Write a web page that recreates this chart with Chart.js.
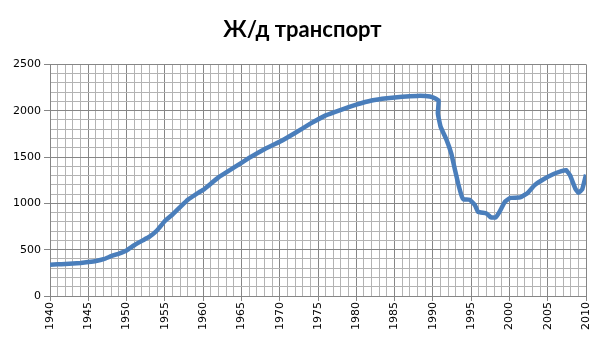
<!DOCTYPE html>
<html>
<head>
<meta charset="utf-8">
<script src="https://cdn.jsdelivr.net/npm/chart.js@4/dist/chart.umd.min.js"></script>
<style>
html,body{margin:0;padding:0;background:#fff;}
#wrap{width:605px;height:340px;}
</style>
</head>
<body>
<div id="wrap"><canvas id="c" width="605" height="340"></canvas></div>
<script>
const chartTitle = "Ж/д транспорт";
const years = [1940,1941,1942,1943,1944,1945,1946,1947,1948,1949,1950,1951,1952,1953,1954,1955,1956,1957,1958,1959,1960,1962,1964,1966,1968,1970,1972,1974,1976,1978,1980,1982,1984,1986,1988,1989,1990,1990.75,1990.65,1991.0,1991.8,1992.4,1992.9,1993.3,1993.8,1994.0,1994.8,1995.5,1995.9,1997.0,1997.6,1998.2,1998.7,1999.4,2000.1,2001.4,2002.3,2003.3,2004.4,2005.7,2006.8,2007.4,2007.9,2008.6,2009.0,2009.5,2010];
const values = [338,342,346,350,356,366,378,397,430,458,492,548,595,640,710,810,880,960,1040,1095,1145,1280,1385,1490,1585,1664,1760,1860,1950,2010,2065,2110,2135,2150,2160,2158,2145,2110,1972,1830,1683,1539,1358,1215,1070,1042,1040,980,908,891,848,848,908,1016,1059,1064,1107,1197,1258,1315,1348,1359,1305,1161,1114,1150,1310];
const yMajorTicks = [0,500,1000,1500,2000,2500];
const xMajorTicks = [1940,1945,1950,1955,1960,1965,1970,1975,1980,1985,1990,1995,2000,2005,2010];

const pts = years.map((y,i)=>({x:y,y:values[i]}));
const minorCol = '#b3b3b3', majorCol = '#868686';

new Chart(document.getElementById('c'), {
  type: 'scatter',
  data: { datasets: [{
    data: pts, showLine: true, borderColor: '#4A7EBB', backgroundColor: '#4A7EBB',
    borderWidth: 4.5, pointRadius: 0, tension: 0.1, fill: false
  }]},
  options: {
    responsive: false, animation: false,
    layout: { padding: 0 },
    plugins: {
      legend: { display: false },
      tooltip: { enabled: false },
      title: { display: true, text: chartTitle, color: '#000',
        font: { family: 'Lato', size: 22, weight: 'bold' },
        padding: { top: 17, bottom: 21 } }
    },
    scales: {
      x: {
        type: 'linear', min: 1940, max: 2010,
        afterFit: s => { s.height = 44; },
        ticks: { stepSize: 1, autoSkip: false, minRotation: 90, maxRotation: 90,
          color: '#000', font: { family: 'DejaVu Sans', size: 11 }, padding: 1,
          callback: v => (xMajorTicks.includes(v) ? String(v) : '') },
        grid: { color: c => (c.tick && c.tick.value % 5 === 0 ? majorCol : minorCol),
          tickColor: c => (c.tick && c.tick.value % 5 === 0 ? majorCol : 'rgba(0,0,0,0)'),
          tickLength: 5, lineWidth: 1 },
        border: { color: majorCol }
      },
      y: {
        min: 0, max: 2500,
        afterFit: s => { s.width = 50; },
        ticks: { stepSize: 100, autoSkip: false, color: '#000',
          font: { family: 'DejaVu Sans', size: 11 }, padding: 3,
          callback: v => (yMajorTicks.includes(v) ? String(v) : '') },
        grid: { color: c => (c.tick && c.tick.value % 500 === 0 ? majorCol : minorCol),
          tickColor: c => (c.tick && c.tick.value % 500 === 0 ? majorCol : 'rgba(0,0,0,0)'),
          tickLength: 6, lineWidth: 1 },
        border: { color: majorCol }
      },
      yRight: {
        position: 'right', min: 0, max: 2500,
        afterFit: s => { s.width = 19; },
        ticks: { display: false },
        grid: { display: false, drawTicks: false },
        border: { display: false }
      }
    }
  }
});
</script>
</body>
</html>
